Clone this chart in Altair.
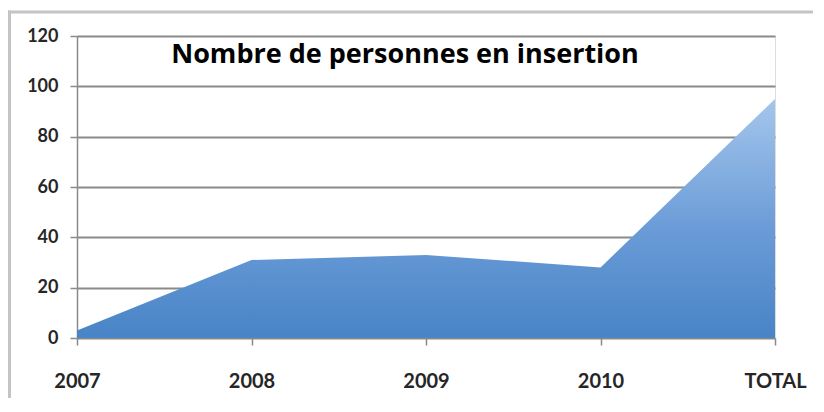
import altair as alt
import pandas as pd

categories = ["2007", "2008", "2009", "2010", "TOTAL"]
values = [3, 31, 33, 28, 95]
title_text = "Nombre de personnes en insertion"
y_ticks = [0, 20, 40, 60, 80, 100, 120]

df = pd.DataFrame({"annee": categories, "n": values})

W, H = 698, 302

area = alt.Chart(df).mark_area(
    line=False,
    color=alt.Gradient(
        gradient="linear",
        stops=[
            alt.GradientStop(color="#a4c6ec", offset=0),
            alt.GradientStop(color="#6a9bd7", offset=0.55),
            alt.GradientStop(color="#4884c6", offset=1),
        ],
        x1=1, x2=1, y1=0, y2=1,
    ),
).encode(
    x=alt.X("annee:N", sort=categories, title=None,
            scale=alt.Scale(type="point", padding=0),
            axis=alt.Axis(labelAngle=0, labelFont="Lato", labelFontSize=20,
                          labelFontWeight="bold",
                          labelColor="#262626", labelPadding=26, tickSize=7,
                          tickColor="#8a8a8a", tickWidth=1.5, domain=False,
                          grid=False)),
    y=alt.Y("n:Q", title=None,
            scale=alt.Scale(domain=[0, 120], nice=False),
            axis=alt.Axis(values=y_ticks, labelFont="Lato", labelFontSize=18,
                          labelFontWeight="bold",
                          labelColor="#262626", labelPadding=12, tickSize=7,
                          tickColor="#8a8a8a", tickWidth=1.5,
                          domain=True, domainColor="#8a8a8a", domainWidth=1.5,
                          grid=True, gridColor="#8a8a8a", gridWidth=1.8)),
)

deco = alt.Data(values=[{"k": 1}])

top_border = alt.Chart(deco).mark_rule(color="#c4c4c4", strokeWidth=3).encode(
    x=alt.value(-69), x2=alt.value(W + 60), y=alt.value(-24)
)
left_border = alt.Chart(deco).mark_rule(color="#c4c4c4", strokeWidth=3).encode(
    x=alt.value(-67.5), y=alt.value(-25.5), y2=alt.value(H + 80)
)

title = alt.Chart(deco).mark_text(
    text=title_text, font="Open Sans", fontWeight="bold", fontSize=27,
    color="#000000", align="center", baseline="alphabetic",
).encode(x=alt.value(328), y=alt.value(27))

chart = alt.layer(area, top_border, left_border, title).properties(
    width=W, height=H,
    autosize=alt.AutoSizeParams(type="none"),
    padding={"left": 69, "top": 28, "right": 38, "bottom": 60},
).configure_view(stroke=None).configure(background="white")

chart.save("out.html", embed_options={"renderer": "svg", "actions": False})
